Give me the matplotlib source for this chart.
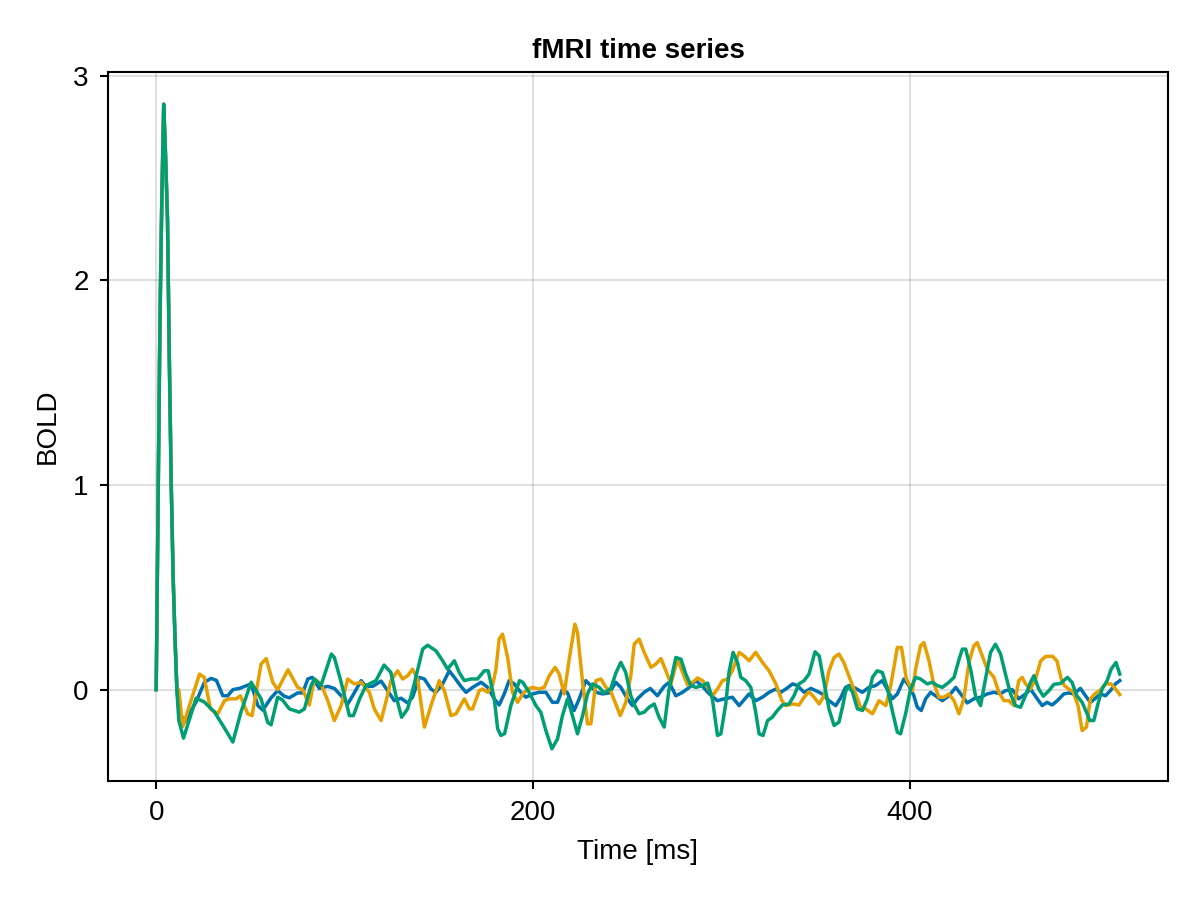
import matplotlib
matplotlib.use("Agg")
import matplotlib.pyplot as plt

# Farver (Makie / Wong palette)
colors = ["#0072B2", "#E69F00", "#009E73"]

# spike i starten er ens for alle tre serier
t_spike = [0, 1, 2, 3, 4, 5, 6, 7, 8, 9, 10, 11]
v_spike = [0, 0.9, 1.8, 2.4, 2.86, 2.6, 2.3, 1.6, 1.0, 0.55, 0.25, 0.0]

t_blue = t_spike + [12, 15, 21.2, 25.6, 29.2, 32, 35.4, 38, 40.7, 44.2, 47, 50.4, 54, 56.6, 61,
    64.5, 68, 70.7, 75.1, 77.8, 80.5, 82.9, 86.6, 91.1, 94.6, 98.2, 101.7, 104.3, 108.8, 111.4,
    115, 119.4, 122.9, 126.4, 130, 133.5, 136.1, 139.7, 142.4, 145.9, 148.5, 152.1, 155.6, 158.3,
    161.8, 164.5, 168, 172.5, 176, 179.5, 182.1, 184.8, 187.4, 190.1, 193.6, 196.3, 199.9, 203.3,
    206.9, 210.4, 213.1, 215.7, 218.4, 221.9, 224.6, 228.1, 230.8, 233.5, 237, 240.6, 244, 246.7,
    250.2, 252.9, 255.5, 259.1, 262.3, 266.1, 269.7, 272.3, 275.9, 279.5, 283, 286.5, 290.1, 293.7,
    298, 301.6, 305.9, 309.5, 312.1, 314.8, 318.3, 321.9, 325.4, 329, 331.6, 334.3, 337.9, 340.4,
    344, 347.6, 350.2, 353.7, 357.2, 360.8, 363.4, 366, 367.8, 371.4, 374.9, 378.4, 382, 385.5,
    388.1, 390.8, 393.5, 397, 399.6, 402.3, 404.1, 406.2, 408.5, 411.2, 413.8, 417.4, 420.9, 424.5,
    427.1, 430.6, 434.1, 437.7, 441.2, 444.8, 448.3, 450.9, 454.5, 458, 461.6, 464.2, 467.8, 470.4,
    473, 475.7, 478.4, 481.9, 484.5, 487.2, 490.7, 493.4, 496, 498.7, 501.4, 504, 506.6, 509.3, 511.6]
blue = v_spike + [-0.1, -0.16, -0.06, 0.036, 0.055, 0.045, -0.03, -0.03, 0, 0.006, 0.016, 0.028,
    -0.078, -0.1, -0.04,
    -0.005, -0.032, -0.04, -0.016, -0.016, 0.052, 0.06, 0.006, 0.016, 0.006, -0.03, -0.07, -0.03,
    0.044, 0.016, 0.016, 0.042, -0.005, -0.054, -0.042, -0.065, -0.037, 0.06, 0.052, 0.003, -0.013,
    0.028, 0.092, 0.06, 0.016, -0.013, 0.011, 0.036, 0.011, -0.045, -0.075, -0.021, 0.044, 0.028,
    -0.013, -0.037, -0.021, -0.013, -0.013, -0.062, -0.062, 0.003, -0.016, -0.102, -0.045, 0.044,
    0.019, -0.013, -0.021, -0.016, 0.036, 0.011, -0.045, -0.078, -0.045, -0.013, 0.006, -0.03,
    0.016, 0.036, -0.03, -0.013, 0.011, 0.044, 0.016, -0.021, -0.054, -0.045, -0.037, -0.078,
    -0.05, -0.021, -0.054, -0.037, -0.013, 0.003, -0.013, 0.003, 0.028, 0.02, -0.013, 0.006,
    -0.005, -0.021, -0.054, -0.078, -0.04, 0.011, 0.02, 0.006, -0.013, 0.011, 0.02, 0.044, 0.003,
    -0.045, -0.021, 0.052, 0.02, -0.03, -0.086, -0.102, -0.045, -0.013, -0.03, -0.054, -0.03,
    0.011, -0.02, -0.065, -0.045, -0.037, -0.021, -0.013, -0.02, -0.005, 0, -0.045, -0.021, 0.003,
    -0.045, -0.078, -0.062, -0.075, -0.054, -0.021, -0.016, -0.021, 0.006, -0.03, -0.062, -0.042,
    -0.021, -0.03, -0.005, 0.028, 0.044]

t_orange = t_spike + [12, 14.1, 23, 25.5, 28.8, 32.7, 36.3, 39, 42.5, 44.7, 48.6, 50.9, 55.7,
    58.4, 61.9, 64.5, 70, 75.1, 77.8, 81.3, 84, 87.5, 91.1, 94.6, 98.2, 101.7, 105.2, 108.8, 113.2,
    115.8, 119.4, 121.9, 124.6, 128.2, 130.9, 133.5, 136.1, 138.8, 142.4, 145.9, 150.3, 153, 156.5,
    159.2, 163.6, 166.3, 168, 171.5, 173.3, 176, 178.6, 180.4, 182.1, 183.9, 186.6, 189.2, 191.9,
    194.6, 197.2, 199.9, 203.3, 206, 208.7, 211.8, 214, 216.6, 219.3, 222.3, 223.7, 226.4, 229,
    230.8, 233.5, 236.1, 238.8, 241.4, 244, 246.4, 249.3, 252, 253.8, 256.4, 259.1, 262.7, 265.3,
    268, 270.6, 273.3, 276.8, 279.5, 282.1, 284.8, 287.5, 290.1, 292.8, 295.4, 298, 300.7, 303.4,
    305.9, 309.5, 312.1, 314.8, 318.3, 321.9, 325.4, 329, 332.2, 334.3, 337.9, 341.3, 344, 346.6,
    349.3, 352, 354.6, 357.2, 359.9, 362.5, 365.2, 368.7, 371.4, 374, 376.7, 380.3, 383.8, 387.4,
    390, 393.5, 395.7, 398.3, 401.5, 403.2, 405.8, 407.6, 410.3, 412.6, 415.6, 418.3, 420.9, 423.6,
    426.2, 428.8, 431.5, 434.1, 435.9, 438.6, 441.2, 444.8, 447.4, 450.1, 452.7, 455.4, 458, 459.8,
    461.6, 464.2, 466.9, 469.6, 472.2, 475.8, 478.2, 480.6, 482.2, 484.5, 486.8, 489.5, 491.6,
    493.9, 496, 498.3, 501, 504, 507, 509.3, 511.6]
orange = v_spike + [0.0, -0.18, 0.076, 0.06, -0.094, -0.118, -0.053, -0.045, -0.045, -0.03,
    -0.118, -0.127, 0.125, 0.152, 0.036, 0, 0.097, 0.011, 0, -0.075, 0.052, 0.028, -0.054, -0.151,
    -0.078, 0.052, 0.028, 0.036, -0.013, -0.094, -0.151, -0.062, 0.044, 0.092, 0.052, 0.068, 0.1,
    0.052, -0.183, -0.078, 0.044, -0.005, -0.127, -0.118, -0.045, -0.094, -0.094, -0.005, 0.003,
    -0.013, 0.02, 0.1, 0.247, 0.271, 0.157, -0.013, -0.062, -0.021, 0.003, 0.011, 0.003, 0.011,
    0.068, 0.109, 0.076, -0.021, 0.149, 0.32, 0.279, 0.036, -0.167, -0.167, 0.044, 0.052, 0.011,
    -0.01, -0.07, -0.127, -0.062, 0.068, 0.222, 0.247, 0.182, 0.109, 0.125, 0.152, 0.092, 0.028,
    0.149, 0.084, 0.023, 0.036, 0.057, 0.044, 0.011, -0.03, 0.003, 0.044, 0.052, 0.092, 0.182,
    0.165, 0.141, 0.182, 0.133, 0.092, 0.028, -0.054, -0.078, -0.07, -0.075, -0.037, -0.01,
    -0.037, -0.07, -0.03, 0.092, 0.157, 0.174, 0.13, 0.044, -0.021, -0.086, -0.094, -0.118,
    -0.054, -0.078, 0.02, 0.206, 0.206, 0.052, -0.005, 0.1, 0.214, 0.23, 0.141, 0.036, -0.037,
    -0.037, -0.021, -0.054, -0.118, -0.045, 0.133, 0.214, 0.23, 0.165, 0.1, 0.06, -0.013, -0.054,
    -0.054, -0.078, 0.044, 0.06, 0.028, 0.003, 0.052, 0.14, 0.162, 0.163, 0.141, 0.05, 0.02,
    0.003, -0.01, -0.08, -0.2, -0.183, -0.045, -0.021, -0.005, 0.028, 0.028, 0.003, -0.024]

t_green = t_spike + [12, 14.5, 21.2, 25.5, 31, 35.4, 40.7, 45, 50.4, 55.7, 59.2, 61, 64.5, 67,
    70.7, 76, 78.7, 82.2, 84, 87.5, 93, 94.6, 98.2, 102.6, 104.7, 108, 111.4, 116.7, 121, 124.6,
    127.3, 130.3, 133.5, 137, 141.5, 144.1, 148.5, 152.1, 154.7, 158.3, 160.9, 163.6, 167.1, 170.6,
    174.2, 176.3, 179.5, 181.3, 183, 185, 188.3, 192.9, 194.6, 198, 201.6, 204.2, 206.9, 210.1,
    213.1, 215.7, 218.4, 221, 223.7, 226.4, 229, 231.7, 235.2, 237.9, 241.4, 244, 246.7, 249.3,
    252, 254.1, 256.4, 259.1, 261.7, 264.4, 267, 269.7, 272.3, 275.9, 278.6, 281.2, 283.9, 286.5,
    290.1, 292.8, 295.3, 298, 299.8, 302.4, 304.2, 306.3, 308.6, 310.4, 313, 315.7, 318.3, 320.1,
    322.2, 324.6, 327.1, 329.8, 332.5, 336, 338.6, 341.3, 344, 346.6, 349.8, 352, 354.6, 357.2,
    359.9, 362.5, 364.5, 366, 367.3, 369.6, 372.3, 375, 377.6, 380.3, 382.8, 385.5, 388.1, 390.8,
    393.5, 395.2, 397.9, 400.5, 403.2, 405.8, 409.4, 412.1, 414.7, 417.4, 420.9, 423.6, 426.3, 428,
    429.8, 432.4, 435, 437.7, 440.3, 443, 445.6, 448.3, 450.9, 453.6, 456.2, 458.9, 461.5, 464.2,
    466, 468.6, 471, 474, 476.6, 480.1, 483.8, 486.2, 488.8, 491.6, 493.9, 495.7, 497.8, 500,
    502.2, 504.9, 507, 509.6, 511.6]
green = v_spike + [-0.15, -0.237, -0.042, -0.06, -0.11, -0.175, -0.256, -0.11, 0.036, -0.045,
    -0.16, -0.172, -0.037, -0.05, -0.094, -0.11, -0.094, 0.02, 0.052, 0.02, 0.174, 0.157, 0.036,
    -0.127, -0.127, -0.045, 0.02, 0.044, 0.12, 0.084, -0.03, -0.135, -0.094, 0.028, 0.198, 0.217,
    0.19, 0.141, 0.1, 0.141, 0.084, 0.044, 0.052, 0.052, 0.092, 0.092, -0.045, -0.191, -0.224,
    -0.215, -0.078, 0.044, 0.036, -0.013, -0.078, -0.11, -0.2, -0.289, -0.24, -0.127, -0.045,
    -0.127, -0.216, -0.127, -0.021, 0.028, 0.011, -0.016, 0.006, 0.08, 0.133, 0.084, -0.03, -0.078,
    -0.118, -0.11, -0.086, -0.07, -0.135, -0.183, 0.003, 0.157, 0.149, 0.076, 0.02, 0.011, 0.02,
    0.032, -0.045, -0.224, -0.216, -0.07, 0.09, 0.182, 0.133, 0.06, 0.044, 0.011, -0.11, -0.216,
    -0.224, -0.151, -0.135, -0.102, -0.075, -0.07, -0.03, 0.028, 0.044, 0.076, 0.185, 0.165,
    0.036, -0.094, -0.175, -0.159, -0.08, -0.01, 0.016, -0.01, -0.094, -0.102, -0.045, 0.06,
    0.092, 0.084, 0.011, -0.102, -0.208, -0.216, -0.118, 0.003, 0.06, 0.052, 0.028, 0.036, 0.02,
    0.011, 0.036, 0.06, 0.149, 0.198, 0.198, 0.1, -0.03, -0.078, 0.052, 0.182, 0.222, 0.174,
    0.076, -0.021, -0.078, -0.086, -0.03, 0.036, 0.068, 0.003, -0.032, -0.005, 0.026, 0.03, 0.06,
    0.036, -0.03, -0.062, -0.11, -0.151, -0.151, -0.07, 0.003, 0.044, 0.1, 0.133, 0.076]

plt.rcParams['font.family'] = ['Liberation Sans', 'DejaVu Sans']
plt.rcParams['font.size'] = 20

fig = plt.figure(figsize=(12, 9), dpi=100)
ax = fig.add_axes([0.09, 0.1322, 0.8833, 0.7878])

#tegner de tre serier
for t, v, c in zip([t_blue, t_orange, t_green], [blue, orange, green], colors):
    ax.plot(t, v, color=c, linewidth=2.5)

ax.margins(x=0.05, y=0.05)
ax.set_xticks([0, 200, 400])
ax.set_yticks([0, 1, 2, 3])
ax.grid(True, color='black', alpha=0.12, linewidth=1.5)
ax.set_axisbelow(True)
for s in ax.spines.values():
    s.set_linewidth(1.5)
ax.tick_params(direction='out', length=6, width=1.5, pad=8, labelsize=20)

ax.set_title("fMRI time series", fontweight='bold', fontsize=20, pad=10)
ax.set_xlabel("Time [ms]", fontsize=20, labelpad=9)
ax.set_ylabel("BOLD", fontsize=20, labelpad=9)

fig.savefig("out.png", dpi=100)
